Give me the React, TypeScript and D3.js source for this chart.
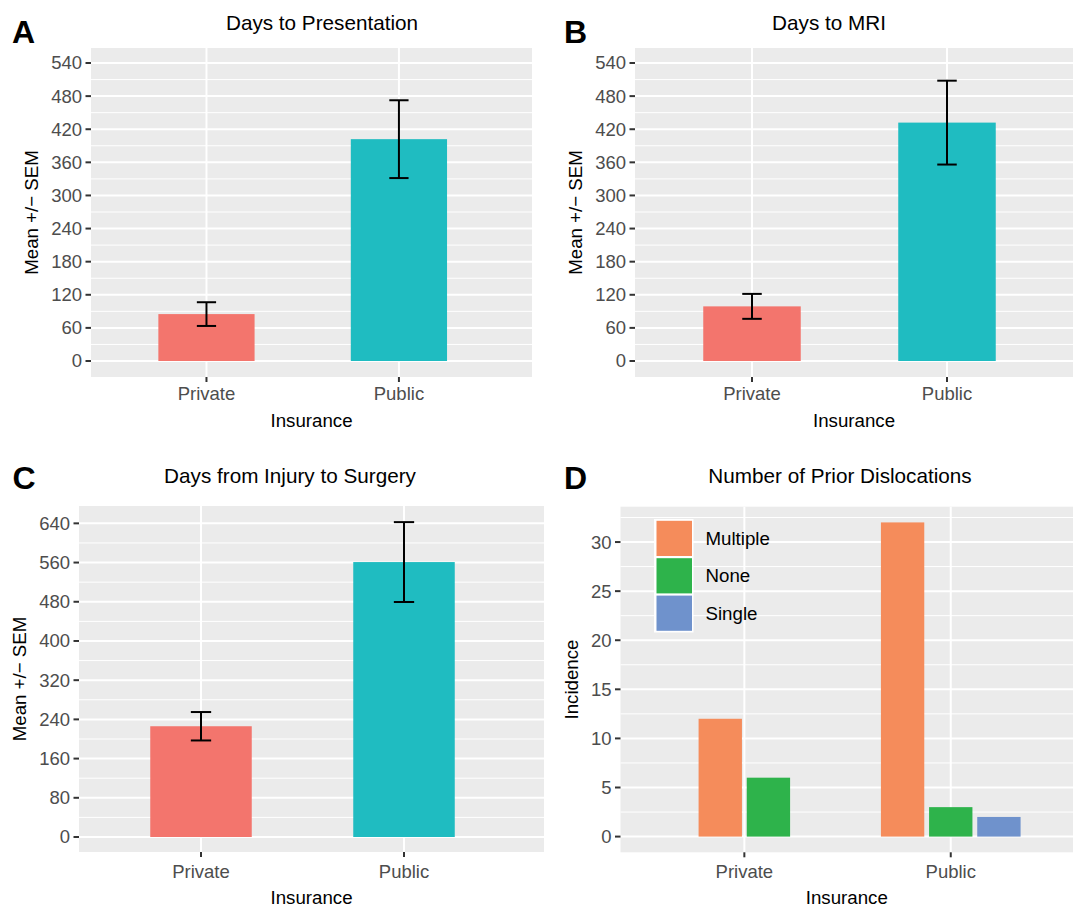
import * as d3 from "d3";

// ---- data ----
const insurance = ["Private", "Public"];

const presentationMean = [85, 402];
const presentationSem = [21.5, 70.5];

const mriMean = [99, 432];
const mriSem = [22.6, 76];

const surgeryMean = [226, 561];
const surgerySem = [29, 81.5];

const dislocationTypes = ["Multiple", "None", "Single"];
const privateCounts = [12, 6, null]; // no "Single" bar for private
const publicCounts = [32, 3, 2];

const daysTicks = [0, 60, 120, 180, 240, 300, 360, 420, 480, 540];
const surgeryTicks = [0, 80, 160, 240, 320, 400, 480, 560, 640];
const countTicks = [0, 5, 10, 15, 20, 25, 30];

const insuranceColors = ["#F3756D", "#1FBCC1"];
const dislocationColors = ["#F58C5B", "#2EB34B", "#6F92CC"];

const FONT = "'Liberation Sans', Arial, Helvetica, sans-serif";
const BG = "#EBEBEB";

type Panel = {
  letter: string;
  letterX: number;
  letterY: number;
  title: string;
  titleX: number;
  titleY: number;
  left: number;
  right: number;
  top: number;
  bottom: number;
  catRange: [number, number];
  yDomain: [number, number];
  ticks: number[];
  yLabel: string;
  yLabelX: number;
  xTickY: number;
  xLabelY: number;
};

function Frame(props: { p: Panel; x: d3.ScalePoint<string>; y: d3.ScaleLinear<number, number>; children?: any }) {
  const { p, x, y } = props;
  const step = p.ticks[1] - p.ticks[0];
  // minor gridlines halfway between majors, only where inside the panel
  const minor = [p.ticks[0] - step / 2, ...p.ticks.map((t) => t + step / 2)].filter(
    (v) => v > p.yDomain[0] && v < p.yDomain[1]
  );
  const midX = (p.left + p.right) / 2;
  const midY = (p.top + p.bottom) / 2;
  return (
    <g fontFamily={FONT}>
      <text x={p.letterX} y={p.letterY} fontSize={32} fontWeight="bold" fill="#000">
        {p.letter}
      </text>
      <text x={p.titleX} y={p.titleY} fontSize={20.7} textAnchor="middle" fill="#000">
        {p.title}
      </text>
      <rect x={p.left} y={p.top} width={p.right - p.left} height={p.bottom - p.top} fill={BG} />
      {minor.map((v) => (
        <line key={"mi" + v} x1={p.left} x2={p.right} y1={y(v)} y2={y(v)} stroke="#fff" strokeWidth={1} />
      ))}
      {p.ticks.map((v) => (
        <line key={"ma" + v} x1={p.left} x2={p.right} y1={y(v)} y2={y(v)} stroke="#fff" strokeWidth={2} />
      ))}
      {insurance.map((c) => (
        <line key={"vx" + c} x1={x(c)} x2={x(c)} y1={p.top} y2={p.bottom} stroke="#fff" strokeWidth={2} />
      ))}
      {props.children}
      {/* y axis */}
      {p.ticks.map((v) => (
        <g key={"yt" + v} transform={`translate(${p.left},${y(v)})`}>
          <line x1={-5.5} x2={0} stroke="#333" strokeWidth={2} />
          <text x={-9} dy="0.35em" textAnchor="end" fontSize={18.5} fill="#4D4D4D">
            {v}
          </text>
        </g>
      ))}
      {/* x axis */}
      {insurance.map((c) => (
        <g key={"xt" + c} transform={`translate(${x(c)},${p.bottom})`}>
          <line y1={0} y2={5} stroke="#333" strokeWidth={2} />
          <text y={p.xTickY - p.bottom} textAnchor="middle" fontSize={18.5} fill="#4D4D4D">
            {c}
          </text>
        </g>
      ))}
      <text x={midX} y={p.xLabelY} textAnchor="middle" fontSize={18.7} fill="#000">
        Insurance
      </text>
      <text
        transform={`translate(${p.yLabelX},${midY}) rotate(-90)`}
        textAnchor="middle"
        fontSize={18.7}
        fill="#000"
      >
        {p.yLabel}
      </text>
    </g>
  );
}

function MeanPanel(props: { p: Panel; mean: number[]; sem: number[] }) {
  const { p, mean, sem } = props;
  const x = d3.scalePoint<string>().domain(insurance).range(p.catRange).padding(0.6);
  const y = d3.scaleLinear().domain(p.yDomain).range([p.bottom, p.top]);
  const bw = x.step() * 0.5;
  const cap = x.step() * 0.05; // error bar width 0.1
  return (
    <Frame p={p} x={x} y={y}>
      {insurance.map((c, i) => (
        <rect
          key={"b" + c}
          x={x(c)! - bw / 2}
          y={y(mean[i])}
          width={bw}
          height={y(0) - y(mean[i])}
          fill={insuranceColors[i]}
        />
      ))}
      {insurance.map((c, i) => {
        const cx = x(c)!;
        const hi = y(mean[i] + sem[i]);
        const lo = y(mean[i] - sem[i]);
        return (
          <g key={"e" + c} stroke="#000" strokeWidth={2} fill="none">
            <line x1={cx} x2={cx} y1={hi} y2={lo} />
            <line x1={cx - cap} x2={cx + cap} y1={hi} y2={hi} />
            <line x1={cx - cap} x2={cx + cap} y1={lo} y2={lo} />
          </g>
        );
      })}
    </Frame>
  );
}

function CountPanel(props: { p: Panel }) {
  const { p } = props;
  const x = d3.scalePoint<string>().domain(insurance).range(p.catRange).padding(0.6);
  const y = d3.scaleLinear().domain(p.yDomain).range([p.bottom, p.top]);
  const groups = [privateCounts, publicCounts];
  const slot = (x.step() * 0.7) / 3;
  return (
    <Frame p={p} x={x} y={y}>
      {insurance.map((c, gi) => {
        const present = dislocationTypes
          .map((t, ti) => ({ t, ti, v: groups[gi][ti] }))
          .filter((d) => d.v !== null) as { t: string; ti: number; v: number }[];
        const start = x(c)! - (present.length * slot) / 2;
        return present.map((d, k) => (
          <rect
            key={c + d.t}
            x={start + k * slot + slot * 0.05}
            y={y(d.v)}
            width={slot * 0.9}
            height={y(0) - y(d.v)}
            fill={dislocationColors[d.ti]}
          />
        ));
      })}
      {/* legend inside the panel */}
      <g transform="translate(654,519)" fontFamily={FONT}>
        <rect x={0} y={0} width={39.5} height={113.5} fill="#fff" />
        {dislocationTypes.map((t, i) => (
          <g key={"lg" + t} transform={`translate(2.5,${1.8 + i * 37.4})`}>
            <rect width={35.5} height={35.2} fill={dislocationColors[i]} />
            <text x={49} y={17.6} dy="0.35em" fontSize={18.7} fill="#000">
              {t}
            </text>
          </g>
        ))}
      </g>
    </Frame>
  );
}

const panelA: Panel = {
  letter: "A", letterX: 12, letterY: 43,
  title: "Days to Presentation", titleX: 322, titleY: 30,
  left: 91, right: 532, top: 48, bottom: 377,
  catRange: [91, 514.4], yDomain: [-29, 567.2], ticks: daysTicks,
  yLabel: "Mean +/\u2212 SEM", yLabelX: 37.5, xTickY: 400, xLabelY: 427,
};
const panelB: Panel = {
  letter: "B", letterX: 564, letterY: 43,
  title: "Days to MRI", titleX: 829, titleY: 30,
  left: 635, right: 1073, top: 48, bottom: 377,
  catRange: [635, 1064], yDomain: [-29, 567.2], ticks: daysTicks,
  yLabel: "Mean +/\u2212 SEM", yLabelX: 581.5, xTickY: 400, xLabelY: 427,
};
const panelC: Panel = {
  letter: "C", letterX: 12.5, letterY: 489,
  title: "Days from Injury to Surgery", titleX: 290, titleY: 483,
  left: 79, right: 544, top: 506, bottom: 852,
  catRange: [79.2, 525.8], yDomain: [-30.6, 675.4], ticks: surgeryTicks,
  yLabel: "Mean +/\u2212 SEM", yLabelX: 26, xTickY: 877.7, xLabelY: 903.5,
};
const panelD: Panel = {
  letter: "D", letterX: 564, letterY: 489,
  title: "Number of Prior Dislocations", titleX: 840, titleY: 483,
  left: 620.5, right: 1073, top: 506.7, bottom: 852.3,
  catRange: [620.5, 1074.6], yDomain: [-1.6, 33.6], ticks: countTicks,
  yLabel: "Incidence", yLabelX: 578, xTickY: 877.7, xLabelY: 903.5,
};

export default function App() {
  return (
    <svg
      width={1073}
      height={906}
      style={{ position: "absolute", left: 0, top: 0, display: "block", background: "#fff" }}
    >
      <rect width={1073} height={906} fill="#fff" />
      <MeanPanel p={panelA} mean={presentationMean} sem={presentationSem} />
      <MeanPanel p={panelB} mean={mriMean} sem={mriSem} />
      <MeanPanel p={panelC} mean={surgeryMean} sem={surgerySem} />
      <CountPanel p={panelD} />
    </svg>
  );
}
